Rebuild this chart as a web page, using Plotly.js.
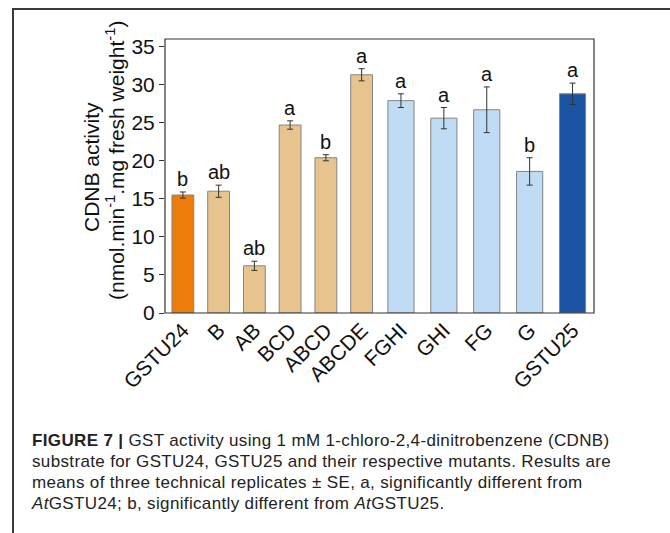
<!DOCTYPE html>
<html>
<head>
<meta charset="utf-8">
<script src="https://cdn.plot.ly/plotly-3.0.1.min.js"></script>
<style>
  html, body { margin: 0; padding: 0; background: #fff; }
  #wrap { position: relative; width: 670px; height: 533px; overflow: hidden; }
  #chart { position: absolute; left: 0; top: 0; width: 670px; height: 533px; }
  #frame { position: absolute; left: 12px; top: 8px; width: 700px; height: 600px;
           border-left: 2px solid #3a3a3a; border-top: 2px solid #3a3a3a; pointer-events: none; }
  #caption { position: absolute; left: 32px; top: 430px; white-space: nowrap;
             font-family: "Liberation Sans", Arial, sans-serif; font-size: 17px; line-height: 21px;
             letter-spacing: 0.35px; color: #222; }
  #caption b { font-weight: bold; }
</style>
</head>
<body>
<div id="wrap">
  <div id="chart"></div>
  <div id="frame"></div>
  <div id="caption"><b>FIGURE 7 |</b> GST activity using 1 mM 1-chloro-2,4-dinitrobenzene (CDNB)<br>substrate for GSTU24, GSTU25 and their respective mutants. Results are<br>means of three technical replicates ± SE, a, significantly different from<br><i>At</i>GSTU24; b, significantly different from <i>At</i>GSTU25.</div>
</div>
<script>
// ---- data ----
const categories = ["GSTU24", "B", "AB", "BCD", "ABCD", "ABCDE", "FGHI", "GHI", "FG", "G", "GSTU25"];
const activity   = [15.5, 16.0, 6.2, 24.7, 20.4, 31.3, 27.9, 25.6, 26.7, 18.6, 28.8];
const stdError   = [0.4, 0.8, 0.6, 0.55, 0.4, 0.8, 0.9, 1.4, 3.0, 1.8, 1.4];
const sigLetters = ["b", "ab", "ab", "a", "b", "a", "a", "a", "a", "b", "a"];
const yTicks     = [0, 5, 10, 15, 20, 25, 30, 35];
const yTitleLines = ["CDNB activity", "(nmol.min<sup>-1</sup>.mg fresh weight<sup>-1</sup>)"];
const groupSize  = 6; // GSTU24 and its mutants; the rest are GSTU25 and its mutants

// ---- styles ----
const barColors = ["#EE7C0B", "#E7C48D", "#E7C48D", "#E7C48D", "#E7C48D", "#E7C48D",
                   "#C0DCF4", "#C0DCF4", "#C0DCF4", "#C0DCF4", "#1A54A2"];
const font = "Liberation Sans, Arial, sans-serif";

function makeTrace(i0, i1, xa) {
  return {
    type: "bar",
    x: categories.slice(i0, i1),
    y: activity.slice(i0, i1),
    xaxis: xa, yaxis: "y",
    marker: { color: barColors.slice(i0, i1), line: { color: "#858585", width: 1 } },
    error_y: { type: "data", array: stdError.slice(i0, i1), visible: true,
               color: "#333", thickness: 1, width: 3 },
    hoverinfo: "x+y", showlegend: false
  };
}

const traces = [makeTrace(0, groupSize, "x"), makeTrace(groupSize, categories.length, "x2")];

const annotations = categories.map((c, i) => ({
  x: c, y: activity[i] + stdError[i],
  xref: i < groupSize ? "x" : "x2", yref: "y",
  text: sigLetters[i], showarrow: false, yanchor: "bottom", yshift: 0,
  font: { family: font, size: 20, color: "#111" }
}));

// two-line y-axis title as rotated annotations
annotations.push({
  xref: "paper", yref: "paper", x: 0, y: 0.5, xshift: -74, yshift: 9,
  text: yTitleLines[0], textangle: -90, showarrow: false,
  xanchor: "center", yanchor: "middle", font: { family: font, size: 21, color: "#111" }
});
annotations.push({
  xref: "paper", yref: "paper", x: 0, y: 0.5, xshift: -50, yshift: 15,
  text: yTitleLines[1], textangle: -90, showarrow: false,
  xanchor: "center", yanchor: "middle", font: { family: font, size: 21, color: "#111" }
});

const xCommon = {
  type: "category", showline: false, ticks: "", showgrid: false, zeroline: false,
  tickangle: -45, tickfont: { family: font, size: 21, color: "#111" }, fixedrange: true
};

const layout = {
  width: 670, height: 533,
  margin: { l: 165, r: 76, t: 39, b: 220 },
  paper_bgcolor: "#fff", plot_bgcolor: "#fff",
  bargap: 0.39,
  xaxis: Object.assign({}, xCommon, { domain: [0, 0.5], anchor: "y" }),
  xaxis2: Object.assign({}, xCommon, { domain: [0.5, 1], anchor: "y" }),
  yaxis: {
    range: [0, 36], tickvals: yTicks, ticktext: yTicks.map(String),
    ticks: "outside", ticklen: 5, tickcolor: "#333", showgrid: false, zeroline: false,
    showline: false,
    tickfont: { family: font, size: 21, color: "#111" }
  },
  shapes: [{ type: "rect", xref: "paper", yref: "paper", x0: 0, x1: 1, y0: 0, y1: 1,
             line: { color: "#333", width: 1.2 } }],
  annotations: annotations
};

Plotly.newPlot("chart", traces, layout, { displayModeBar: false, staticPlot: true });
</script>
</body>
</html>
